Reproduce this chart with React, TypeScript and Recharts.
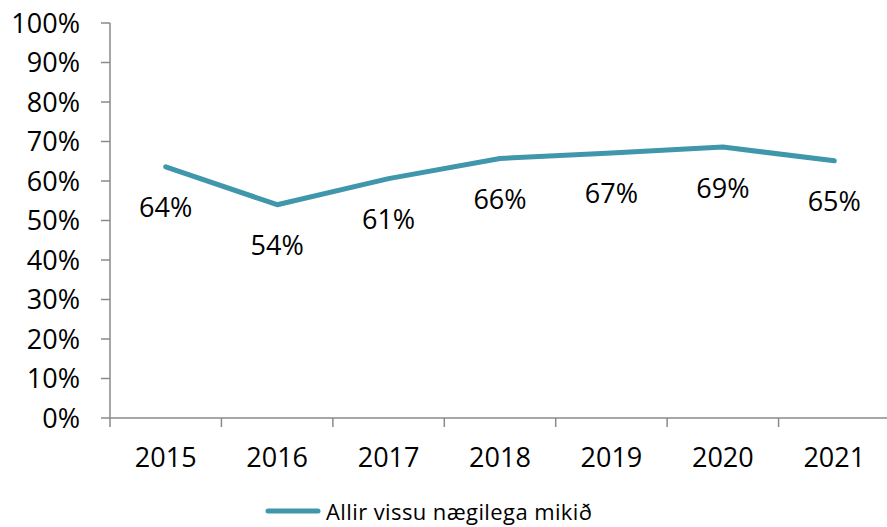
import { LineChart, Line, XAxis, YAxis, Legend, LabelList } from 'recharts';

const years = ['2015', '2016', '2017', '2018', '2019', '2020', '2021'];
const values = [63.6, 54.0, 60.6, 65.7, 67.1, 68.6, 65.1];
const yTicks = [0, 10, 20, 30, 40, 50, 60, 70, 80, 90, 100];
const seriesName = 'Allir vissu nægilega mikið';

const data = years.map((year, i) => ({ year, value: values[i] }));

const LINE_COLOR = '#4097ac';
const AXIS_COLOR = '#8a8a8a';
const FONT = '"Open Sans", sans-serif';
// plot area runs from x=110 to x=890, so each year gets 780/7 px
const HALF_BAND = 780 / years.length / 2;

function XTick(props: any) {
  const { x, y, payload } = props;
  return (
    <g>
      <line x1={x - HALF_BAND} x2={x - HALF_BAND} y1={y} y2={y + 9} stroke={AXIS_COLOR} strokeWidth={1.5} />
      <text x={x} y={y + 30} dy="0.71em" textAnchor="middle" fill="#000" fontSize={27} fontFamily={FONT}>
        {payload.value}
      </text>
    </g>
  );
}

function PointLabel(props: any) {
  const { x, y, value } = props;
  return (
    <text x={x} y={y + 40} textAnchor="middle" dominantBaseline="central" fill="#000" fontSize={27} fontFamily={FONT}>
      {Math.round(value)}%
    </text>
  );
}

function LegendContent() {
  return (
    <div
      style={{
        height: 30,
        display: 'flex',
        alignItems: 'center',
        paddingLeft: 265,
        fontFamily: FONT,
        fontSize: 22,
        letterSpacing: 0.4,
        lineHeight: '30px',
      }}
    >
      <svg width={56} height={10} style={{ marginRight: 5 }}>
        <line x1={3} x2={53} y1={5} y2={5} stroke={LINE_COLOR} strokeWidth={5} strokeLinecap="round" />
      </svg>
      <span style={{ color: '#000' }}>{seriesName}</span>
    </div>
  );
}

export default function App() {
  return (
    <div style={{ position: 'fixed', top: 0, left: 0, width: 887, height: 527, overflow: 'hidden', background: '#fff' }}>
      <LineChart width={892} height={527} data={data} margin={{ top: 23, right: 2, left: 0, bottom: 29 }}>
        <XAxis
          dataKey="year"
          height={50}
          tickLine={false}
          tickSize={0}
          tickMargin={0}
          stroke={AXIS_COLOR}
          strokeWidth={1.5}
          tick={<XTick />}
          interval={0}
          padding={{ left: HALF_BAND, right: HALF_BAND }}
        />
        <YAxis
          width={110}
          domain={[0, 100]}
          ticks={yTicks}
          interval={0}
          tickSize={9}
          tickMargin={21}
          stroke={AXIS_COLOR}
          strokeWidth={1.5}
          tick={{ fill: '#000', fontSize: 27, fontFamily: FONT }}
          tickFormatter={(v: number) => `${v}%`}
        />
        <Legend content={<LegendContent />} wrapperStyle={{ left: 0, top: 496, bottom: 'auto', width: 887, height: 30 }} />
        <Line
          type="linear"
          dataKey="value"
          name={seriesName}
          stroke={LINE_COLOR}
          strokeWidth={5}
          strokeLinecap="round"
          strokeLinejoin="round"
          dot={false}
          activeDot={false}
          isAnimationActive={false}
        >
          <LabelList dataKey="value" content={<PointLabel />} />
        </Line>
      </LineChart>
    </div>
  );
}
